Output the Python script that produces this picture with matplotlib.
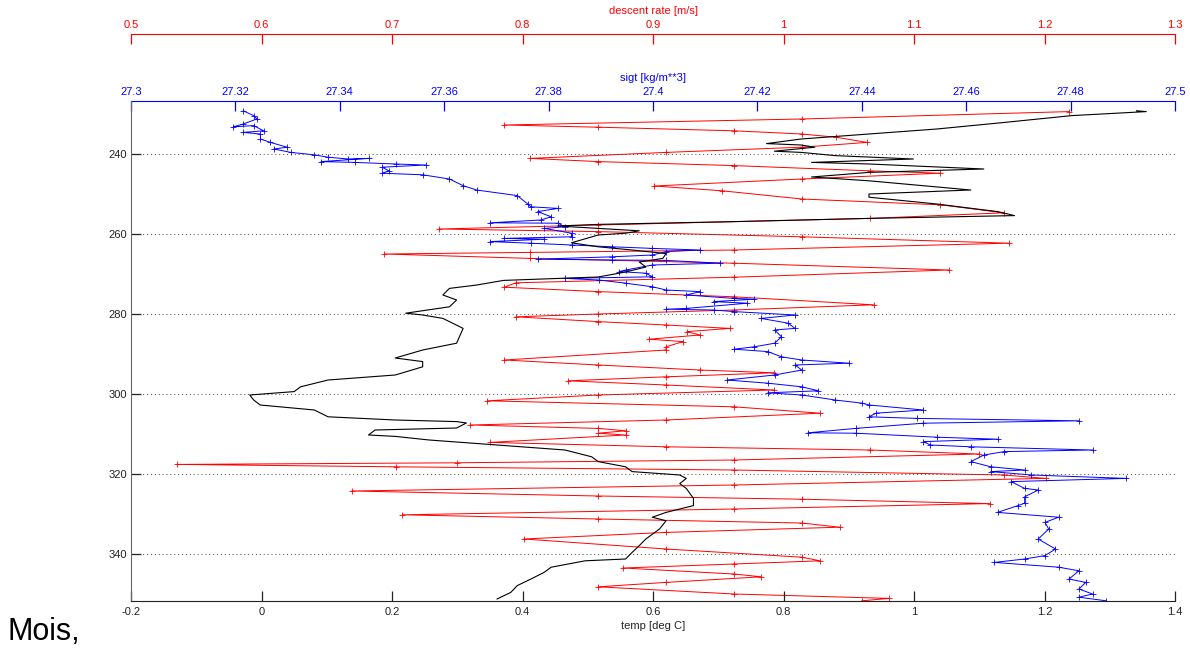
import matplotlib
matplotlib.use("Agg")
import matplotlib.pyplot as plt
from matplotlib.ticker import FixedLocator, FuncFormatter

# ---- profile data (depth in m) ----
temp_depth = [229.2, 229.4, 230.4, 232.1, 233.75, 235.0, 236.25, 237.4, 237.75, 238.3,
              239.3, 239.6, 240.4, 241.25, 242.1, 242.5, 243.75, 244.6, 245.75, 246.7,
              249.0, 250.0, 250.8, 252.5, 254.4, 255.4, 256.1, 256.9, 257.6, 258.0,
              258.6, 259.2, 259.8, 260.25, 262.2, 263.2, 264.0, 264.9, 266.1, 267.0,
              268.25, 269.5, 270.75, 271.6, 272.75, 273.6, 275.25, 276.5, 278.2, 279.8,
              280.25, 281.1, 283.6, 287.3, 289.0, 291.0, 291.9, 293.2, 295.25, 296.5,
              298.2, 299.4, 300.25, 301.5, 302.75, 304.0, 305.7, 306.5, 306.9, 307.25,
              308.5, 309.0, 310.25, 310.6, 311.5, 312.75, 314.0, 315.7, 316.9, 318.2,
              319.4, 320.25, 321.1, 322.4, 323.6, 326.1, 327.9, 329.6, 330.8, 331.7,
              333.75, 336.25, 337.9, 339.6, 341.25, 341.7, 343.3, 344.6, 346.25, 347.9,
              349.6, 351.25]
temp = [1.341, 1.356, 1.242, 1.139, 1.035, 0.931, 0.827, 0.774, 0.827, 0.848,
        0.786, 0.827, 0.879, 0.999, 0.843, 0.931, 1.107, 0.931, 0.843, 0.931,
        1.087, 0.931, 0.931, 1.035, 1.128, 1.154, 0.931, 0.724, 0.516, 0.454,
        0.516, 0.579, 0.558, 0.516, 0.475, 0.516, 0.568, 0.620, 0.615, 0.579,
        0.589, 0.558, 0.516, 0.371, 0.330, 0.288, 0.278, 0.299, 0.288, 0.221,
        0.247, 0.278, 0.309, 0.299, 0.247, 0.205, 0.247, 0.247, 0.205, 0.102,
        0.060, 0.050, -0.018, -0.012, -0.002, 0.081, 0.102, 0.205, 0.299, 0.314,
        0.299, 0.174, 0.164, 0.205, 0.257, 0.361, 0.465, 0.506, 0.516, 0.558,
        0.568, 0.641, 0.651, 0.641, 0.651, 0.662, 0.662, 0.620, 0.599, 0.620,
        0.610, 0.589, 0.579, 0.568, 0.558, 0.496, 0.444, 0.433, 0.413, 0.392,
        0.382, 0.361]

sigt_depth = [229.2, 230.4, 231.25, 232.5, 233.2, 232.9, 234.2, 234.6, 235.0, 236.25,
              237.1, 238.3, 238.75, 239.6, 240.2, 240.8, 241.25, 241.1, 241.9, 242.1,
              242.5, 242.75, 243.3, 244.2, 244.8, 245.2, 246.25, 247.9, 249.0, 250.4,
              252.5, 253.2, 253.6, 254.4, 255.7, 256.5, 257.2, 257.3, 258.2, 258.6,
              259.8, 260.7, 261.1, 261.3, 261.9, 262.3, 262.75, 263.2, 263.6, 264.0,
              264.4, 265.25, 265.7, 266.3, 266.5, 266.6, 267.3, 267.75, 269.0, 269.4,
              269.8, 270.7, 271.1, 271.5, 272.3, 273.2, 274.0, 274.4, 275.25, 276.1,
              276.3, 276.9, 277.3, 278.6, 278.8, 279.0, 279.4, 280.25, 281.1, 282.3,
              283.6, 284.0, 285.7, 287.3, 288.2, 288.8, 289.4, 290.7, 291.5, 292.3,
              292.75, 294.0, 295.25, 296.5, 297.3, 298.2, 299.2, 299.7, 300.25, 301.5,
              302.3, 302.75, 304.0, 304.8, 305.7, 306.1, 306.7, 307.3, 308.6, 309.7,
              309.8, 310.8, 311.3, 311.9, 312.75, 313.2, 314.0, 314.4, 315.25, 316.9,
              318.2, 319.0, 319.4, 320.25, 321.1, 321.9, 323.6, 324.0, 325.7, 327.3,
              327.9, 329.6, 330.8, 332.1, 333.75, 336.25, 338.75, 340.4, 341.25, 342.1,
              343.3, 344.2, 346.25, 347.1, 348.75, 350.0, 350.8, 351.7]
sigt = [27.3215, 27.3235, 27.3241, 27.3215, 27.3196, 27.3235, 27.3254, 27.3215, 27.3248, 27.3248,
        27.3267, 27.3299, 27.3274, 27.3306, 27.3351, 27.3377, 27.3416, 27.3455, 27.3364, 27.3429,
        27.3507, 27.3565, 27.3481, 27.3494, 27.3481, 27.3559, 27.3610, 27.3636, 27.3662, 27.3740,
        27.3760, 27.3766, 27.3818, 27.3779, 27.3805, 27.3785, 27.3688, 27.3818, 27.3831, 27.3792,
        27.3844, 27.3844, 27.3714, 27.3792, 27.3688, 27.3766, 27.3844, 27.3922, 27.3999, 27.4090,
        27.4025, 27.3999, 27.3922, 27.3779, 27.3922, 27.4025, 27.4129, 27.3999, 27.3948, 27.3935,
        27.3986, 27.3999, 27.3831, 27.3896, 27.3948, 27.3999, 27.4025, 27.4090, 27.4064, 27.4155,
        27.4194, 27.4116, 27.4181, 27.4064, 27.4025, 27.4116, 27.4155, 27.4272, 27.4207, 27.4259,
        27.4272, 27.4233, 27.4246, 27.4233, 27.4194, 27.4155, 27.4220, 27.4246, 27.4285, 27.4375,
        27.4272, 27.4285, 27.4233, 27.4142, 27.4220, 27.4285, 27.4317, 27.4220, 27.4285, 27.4349,
        27.4401, 27.4414, 27.4518, 27.4427, 27.4414, 27.4505, 27.4816, 27.4518, 27.4388, 27.4297,
        27.4388, 27.4544, 27.4660, 27.4518, 27.4531, 27.4609, 27.4842, 27.4673, 27.4634, 27.4609,
        27.4647, 27.4712, 27.4647, 27.4725, 27.4907, 27.4686, 27.4712, 27.4738, 27.4712, 27.4712,
        27.4699, 27.4660, 27.4777, 27.4751, 27.4758, 27.4738, 27.4771, 27.4751, 27.4712, 27.4654,
        27.4777, 27.4816, 27.4797, 27.4829, 27.4816, 27.4842, 27.4816, 27.4868]

rate_depth = [229.4, 231.25, 232.75, 233.3, 234.2, 235.0, 235.8, 237.1, 238.3, 239.6,
              241.1, 241.9, 242.9, 244.2, 244.8, 246.25, 248.0, 249.2, 251.25, 252.7,
              254.7, 256.1, 257.75, 258.75, 259.4, 260.7, 262.3, 264.0, 264.6, 265.0,
              266.1, 267.3, 269.0, 270.8, 272.2, 273.3, 274.4, 275.7, 277.7, 279.0,
              280.0, 280.7, 281.9, 282.75, 283.6, 284.4, 285.25, 286.3, 286.9, 288.2,
              289.0, 291.5, 292.75, 294.0, 294.7, 295.7, 296.7, 297.75, 299.0, 300.25,
              301.7, 303.2, 304.8, 306.5, 307.75, 308.6, 309.2, 309.8, 310.25, 312.1,
              313.2, 314.0, 315.0, 316.5, 317.2, 317.6, 318.2, 319.0, 320.25, 321.1,
              322.75, 324.25, 325.5, 326.3, 327.4, 328.75, 330.2, 331.25, 332.25, 333.3,
              334.6, 336.25, 338.75, 340.8, 341.7, 342.5, 343.5, 345.0, 345.7, 347.1,
              348.2, 350.0, 351.1, 351.7]
rate = [1.219, 1.014, 0.786, 0.858, 0.962, 1.014, 1.040, 1.064, 1.014, 0.910,
        0.806, 0.858, 0.962, 1.066, 1.120, 1.014, 0.901, 0.953, 1.014, 1.120,
        1.169, 1.066, 0.858, 0.736, 0.858, 1.014, 1.173, 0.962, 0.806, 0.694,
        0.806, 0.962, 1.127, 0.962, 0.795, 0.786, 0.858, 0.962, 1.069, 0.962,
        0.858, 0.795, 0.858, 0.910, 0.959, 0.926, 0.936, 0.897, 0.923, 0.910,
        0.910, 0.786, 0.858, 0.936, 0.993, 0.910, 0.835, 0.910, 0.993, 0.858,
        0.773, 0.962, 1.028, 0.910, 0.760, 0.858, 0.879, 0.858, 0.879, 0.775,
        0.910, 1.066, 1.150, 0.962, 0.750, 0.535, 0.703, 0.962, 1.169, 1.201,
        0.962, 0.669, 0.858, 1.014, 1.158, 0.962, 0.708, 0.858, 1.014, 1.043,
        0.910, 0.801, 0.910, 1.014, 1.028, 0.962, 0.877, 0.962, 0.983, 0.910,
        0.858, 0.962, 1.081, 1.060]

# ---- axis settings ----
depth_ticks = [240, 260, 280, 300, 320, 340]
temp_ticks = [-0.2, 0, 0.2, 0.4, 0.6, 0.8, 1.0, 1.2, 1.4]
sigt_ticks = [27.3, 27.32, 27.34, 27.36, 27.38, 27.4, 27.42, 27.44, 27.46, 27.48, 27.5]
rate_ticks = [0.5, 0.6, 0.7, 0.8, 0.9, 1.0, 1.1, 1.2, 1.3]

FONT = ['Liberation Sans Narrow', 'Liberation Sans', 'DejaVu Sans']
plt.rcParams['font.family'] = FONT
TS = 8

gfmt = FuncFormatter(lambda v, p: '%g' % round(v, 4))

W, H = 1190, 648
fig = plt.figure(figsize=(W / 100, H / 100), dpi=100)
fig.patch.set_facecolor('white')
L, R, B, T = 131 / W, 1175 / W, 1 - 601 / H, 1 - 101 / H

ax = fig.add_axes([L, B, R - L, T - B])
ax_r = ax.twiny()
ax_s = ax.twiny()

# stacking: descent rate at the bottom, density, then temperature on top
ax_r.set_zorder(1)
ax_s.set_zorder(2)
ax.set_zorder(3)
for a in (ax, ax_r, ax_s):
    a.patch.set_visible(False)

# temperature (bottom axis) + depth
ax.plot(temp, temp_depth, color='black', lw=0.8)
ax.set_xlim(-0.2, 1.4)
ax.set_ylim(351.75, 226.75)
ax.xaxis.set_major_locator(FixedLocator(temp_ticks))
ax.xaxis.set_major_formatter(gfmt)
ax.yaxis.set_major_locator(FixedLocator(depth_ticks))
ax.tick_params(axis='both', direction='in', length=7, width=0.9,
               labelsize=TS, colors='#222222', pad=4)
ax.tick_params(axis='y', pad=3)
ax.spines['top'].set_visible(False)
ax.spines['right'].set_visible(False)
ax.spines['left'].set_color('#666666')
ax.spines['bottom'].set_color('#222222')
ax.yaxis.grid(True, linestyle=(0, (1, 3)), color='#444444', linewidth=0.7)
ax.set_xlabel('temp [deg C]', fontsize=TS, color='#222222', labelpad=3)

# density (inner top axis)
ax_s.plot(sigt, sigt_depth, color='blue', lw=0.7, marker='+', ms=4, mew=0.6)
ax_s.set_xlim(27.3, 27.5)
ax_s.xaxis.set_major_locator(FixedLocator(sigt_ticks))
ax_s.xaxis.set_major_formatter(gfmt)
ax_s.tick_params(axis='x', direction='in', length=7, width=0.9,
                 labelsize=TS, colors='blue', pad=3)
for s in ('left', 'right', 'bottom'):
    ax_s.spines[s].set_visible(False)
ax_s.spines['top'].set_color('blue')
ax_s.set_xlabel('sigt [kg/m**3]', fontsize=TS, color='blue', labelpad=4)

# descent rate (outer top axis)
ax_r.plot(rate, rate_depth, color='red', lw=0.7, marker='+', ms=4, mew=0.6)
ax_r.set_xlim(0.5, 1.3)
ax_r.xaxis.set_major_locator(FixedLocator(rate_ticks))
ax_r.xaxis.set_major_formatter(gfmt)
ax_r.spines['top'].set_position(('axes', 1 + 67 / 500))
ax_r.tick_params(axis='x', direction='in', length=7, width=0.9,
                 labelsize=TS, colors='red', pad=3)
for s in ('left', 'right', 'bottom'):
    ax_r.spines[s].set_visible(False)
ax_r.spines['top'].set_color('red')
ax_r.set_xlabel('descent rate [m/s]', fontsize=TS, color='red', labelpad=4)

fig.text(8 / W, 1 - 640 / H, 'Mois,', fontsize=22, family=['Liberation Sans', 'DejaVu Sans'],
         va='baseline', ha='left', color='black')

fig.savefig('out.png', dpi=100, facecolor='white')
